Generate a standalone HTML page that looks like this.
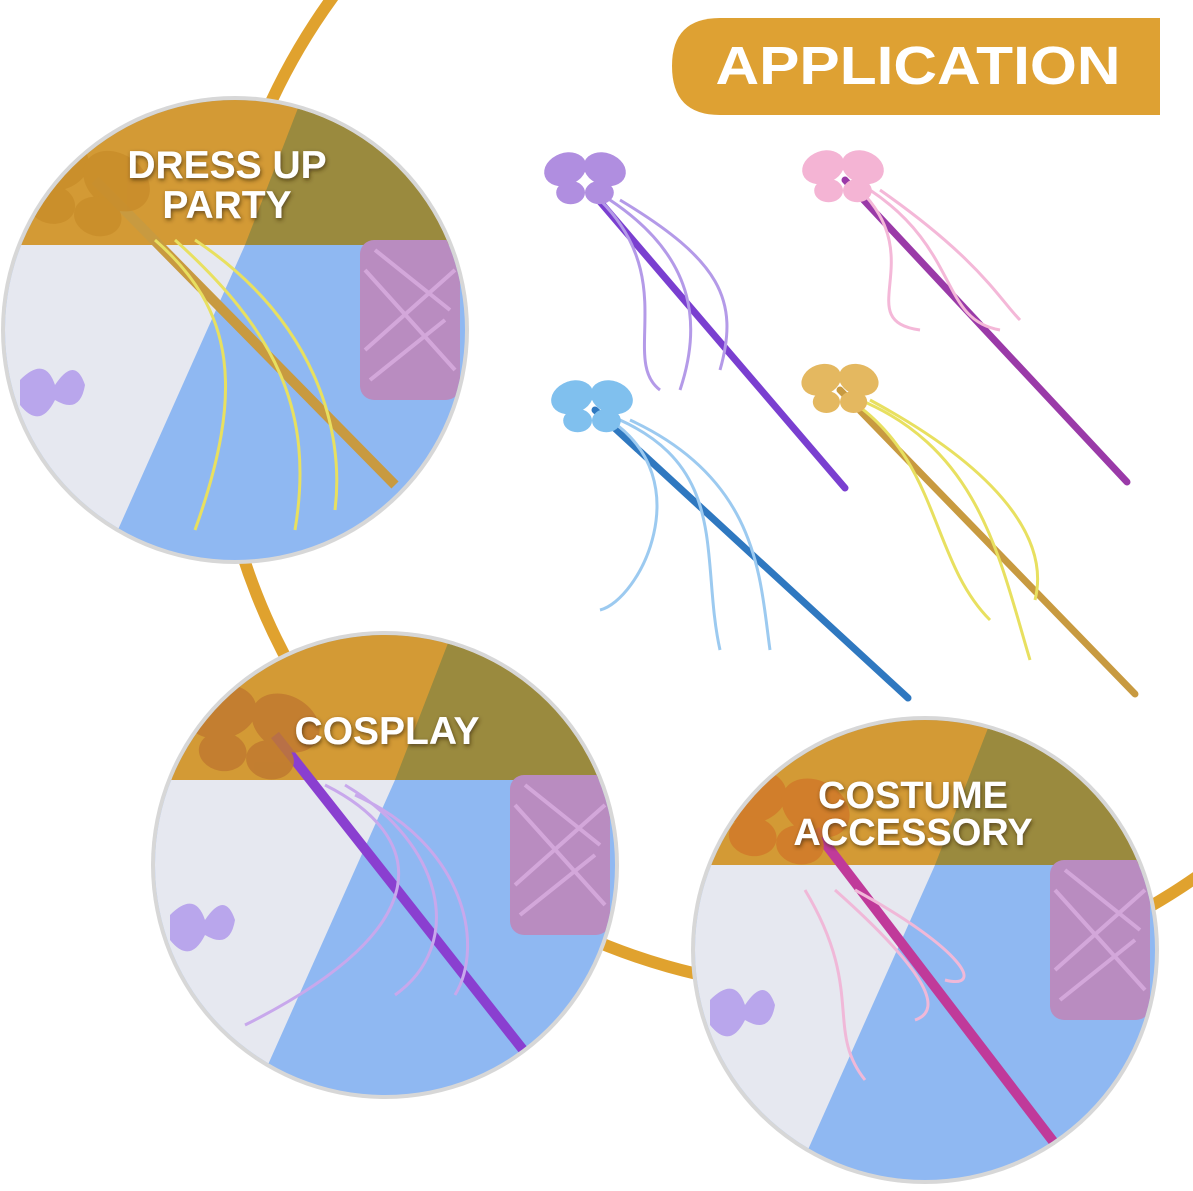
<!DOCTYPE html>
<html><head><style>
html,body{margin:0;padding:0;background:#fff;width:1193px;height:1191px;overflow:hidden}
svg{display:block}
text{font-family:"Liberation Sans",sans-serif;font-weight:bold}
</style></head><body>
<svg width="1193" height="1191" viewBox="0 0 1193 1191">
<defs>
<clipPath id="c1"><circle cx="0" cy="0" r="230"/></clipPath>
<filter id="sh"><feDropShadow dx="1" dy="2" stdDeviation="2" flood-color="#3a2a10" flood-opacity="0.7"/></filter>
<g id="bf">
<ellipse cx="-22" cy="-12" rx="24" ry="18" transform="rotate(-20 -22 -12)"/>
<ellipse cx="22" cy="-12" rx="24" ry="18" transform="rotate(20 22 -12)"/>
<ellipse cx="-16" cy="14" rx="16" ry="13"/>
<ellipse cx="16" cy="14" rx="16" ry="13"/>
</g>
<g id="bg">
<rect x="-240" y="-240" width="480" height="480" fill="#8fb8f2"/>
<polygon points="-240,-85 10,-85 -135,240 -240,240" fill="#e6e8f0"/>
<polygon points="-240,-240 240,-240 240,-85 -240,-85" fill="#d39a35"/>
<polygon points="70,-240 240,-240 240,-85 10,-85" fill="#9a8a3e"/>
<rect x="125" y="-90" width="100" height="160" rx="14" fill="#b98cc0"/>
<g stroke="#d9aee0" stroke-width="4" fill="none" opacity="0.8"><path d="M130,-60 L220,40 M140,-80 L215,-20 M130,20 L220,-60 M135,50 L210,-10"/></g>
<path d="M-215,50 q25,-25 35,5 q20,-30 30,0 q-5,30 -30,15 q-15,30 -35,5 z" fill="#b9a6ec"/>
</g>
</defs>

<circle cx="838" cy="365" r="625" fill="none" stroke="#e0a22e" stroke-width="12"/>

<path d="M720,18 H1160 V115 H720 Q672,115 672,66 Q672,18 720,18 Z" fill="#dea133"/>
<text x="918" y="84" font-size="54" fill="#fff" text-anchor="middle" textLength="405" lengthAdjust="spacingAndGlyphs">APPLICATION</text>

<g transform="translate(235,330)">
<circle r="234" fill="#d7d7d7"/>
<g clip-path="url(#c1)">
<use href="#bg"/>
<line x1="-140" y1="-150" x2="160" y2="155" stroke="#c89a40" stroke-width="10"/>
<g stroke="#e8e060" stroke-width="3" fill="none"><path d="M-80,-90 C0,-20 10,60 -40,200"/><path d="M-60,-90 C40,0 80,80 60,200"/><path d="M-40,-90 C80,-10 110,100 100,180"/></g>
<use href="#bf" transform="translate(-155,-140) rotate(15) scale(1.5)" fill="#c88c2a" opacity="0.8"/>
</g>
<text x="-8" y="-152" font-size="39" fill="#fff" text-anchor="middle" filter="url(#sh)">DRESS UP</text>
<text x="-8" y="-112" font-size="39" fill="#fff" text-anchor="middle" filter="url(#sh)">PARTY</text>
</g>

<g transform="translate(385,865)">
<circle r="234" fill="#d7d7d7"/>
<g clip-path="url(#c1)">
<use href="#bg"/>
<line x1="-110" y1="-130" x2="150" y2="200" stroke="#8a3fd0" stroke-width="10"/>
<g stroke="#c8a8ec" stroke-width="3" fill="none"><path d="M-60,-80 C40,-30 60,60 -140,160"/><path d="M-40,-80 C60,-20 80,80 10,130"/><path d="M-30,-70 C80,-20 100,80 70,130"/></g>
<use href="#bf" transform="translate(-135,-130) rotate(10) scale(1.5)" fill="#c07a30" opacity="0.85"/>
</g>
<text x="2" y="-121" font-size="39" fill="#fff" text-anchor="middle" filter="url(#sh)">COSPLAY</text>
</g>

<g transform="translate(925,950)">
<circle r="234" fill="#d7d7d7"/>
<g clip-path="url(#c1)">
<use href="#bg"/>
<line x1="-110" y1="-120" x2="150" y2="220" stroke="#c03a9a" stroke-width="10"/>
<g stroke="#f0b8d8" stroke-width="3" fill="none"><path d="M-120,-60 C-60,40 -100,80 -60,130"/><path d="M-90,-60 C0,20 20,60 -10,70"/><path d="M-70,-60 C40,0 60,40 20,30"/></g>
<use href="#bf" transform="translate(-145,-130) rotate(10) scale(1.5)" fill="#d07a2a" opacity="0.85"/>
</g>
<text x="-12" y="-142" font-size="38" fill="#fff" text-anchor="middle" filter="url(#sh)">COSTUME</text>
<text x="-12" y="-105" font-size="38" fill="#fff" text-anchor="middle" filter="url(#sh)">ACCESSORY</text>
</g>

<g stroke-linecap="round">
<line x1="590" y1="190" x2="845" y2="488" stroke="#7a3fd0" stroke-width="7"/>
<line x1="845" y1="180" x2="1127" y2="482" stroke="#9a3aa8" stroke-width="7"/>
<line x1="595" y1="410" x2="908" y2="698" stroke="#2f78c0" stroke-width="7"/>
<line x1="840" y1="390" x2="1135" y2="694" stroke="#c89a40" stroke-width="7"/>
</g>
<g fill="none" stroke-width="3">
<g stroke="#b49ae8"><path d="M600,200 C680,280 620,360 660,390"/><path d="M610,200 C700,260 700,330 680,390"/><path d="M620,200 C720,260 740,300 720,370"/></g>
<g stroke="#f4b8d8"><path d="M860,190 C930,260 850,320 920,330"/><path d="M870,190 C960,250 940,320 1000,330"/><path d="M880,190 C980,260 1000,300 1020,320"/></g>
<g stroke="#9ccaf0"><path d="M610,420 C700,480 640,600 600,610"/><path d="M620,420 C730,470 700,560 720,650"/><path d="M630,420 C760,480 760,580 770,650"/></g>
<g stroke="#e8e060"><path d="M850,400 C940,460 930,560 990,620"/><path d="M860,400 C980,450 1000,560 1030,660"/><path d="M870,400 C1000,470 1050,540 1035,600"/></g>
</g>
<use href="#bf" transform="translate(585,180) scale(0.9)" fill="#b08ee0"/>
<use href="#bf" transform="translate(843,178) scale(0.9)" fill="#f4b4d4"/>
<use href="#bf" transform="translate(592,408) scale(0.9)" fill="#80c0ee"/>
<use href="#bf" transform="translate(840,390) scale(0.85)" fill="#e4b860"/>
</svg>
</body></html>
